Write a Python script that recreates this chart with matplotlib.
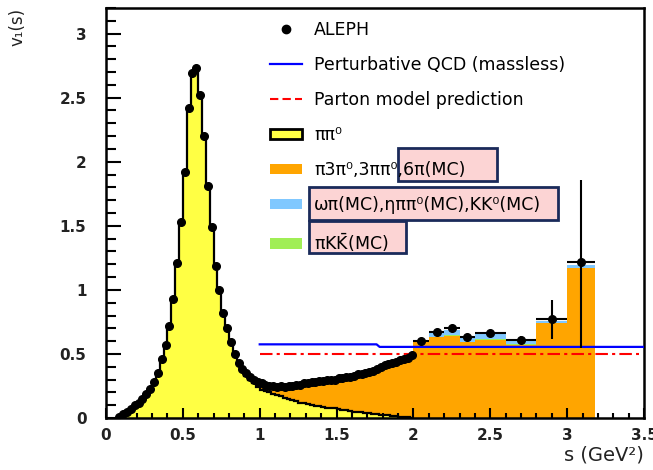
import numpy as np
import matplotlib
matplotlib.use("Agg")
from matplotlib import pyplot as plt
from matplotlib.patches import Patch, Rectangle
from matplotlib.lines import Line2D

# bins: 0.025 GeV^2 wide up to 2 GeV^2, then the wide high-mass bins
fine_edges = np.round(np.arange(0.075, 2.0001, 0.025), 4)
coarse_edges = [2.0, 2.1, 2.2, 2.3, 2.4, 2.6, 2.8, 3.0, 3.18]

aleph_fine = [0.01, 0.03, 0.05, 0.07, 0.10, 0.12, 0.15, 0.19, 0.23, 0.28,
              0.35, 0.46, 0.57, 0.72, 0.93, 1.21, 1.53, 1.92, 2.42, 2.69,
              2.73, 2.52, 2.20, 1.81, 1.49, 1.19, 1.00, 0.82, 0.70, 0.59,
              0.50, 0.43, 0.38, 0.35, 0.32, 0.30, 0.28, 0.27, 0.26, 0.25,
              0.25, 0.24, 0.25, 0.24, 0.25, 0.25, 0.26, 0.26, 0.27, 0.27,
              0.28, 0.28, 0.29, 0.29, 0.30, 0.30, 0.30, 0.31, 0.31, 0.32,
              0.32, 0.33, 0.34, 0.34, 0.35, 0.36, 0.37, 0.38, 0.40, 0.41,
              0.42, 0.43, 0.44, 0.45, 0.46, 0.47, 0.49]
aleph_coarse = [0.60, 0.67, 0.70, 0.63, 0.66, 0.61, 0.77, 1.22]
aleph_err_up = [0.02, 0.02, 0.02, 0.02, 0.02, 0.03, 0.15, 0.64]
aleph_err_dn = [0.02, 0.02, 0.02, 0.02, 0.02, 0.03, 0.15, 0.67]

pipi0_fine = [0.01, 0.03, 0.05, 0.07, 0.10, 0.12, 0.15, 0.19, 0.23, 0.28,
              0.35, 0.46, 0.57, 0.72, 0.93, 1.21, 1.53, 1.92, 2.42, 2.69,
              2.73, 2.52, 2.20, 1.81, 1.49, 1.19, 1.00, 0.82, 0.70, 0.59,
              0.49, 0.42, 0.37, 0.33, 0.30, 0.27, 0.24, 0.22, 0.21, 0.20,
              0.19, 0.18, 0.17, 0.16, 0.15, 0.14, 0.13, 0.12, 0.115, 0.11,
              0.10, 0.095, 0.09, 0.085, 0.08, 0.078, 0.075, 0.07, 0.065, 0.06,
              0.055, 0.05, 0.047, 0.044, 0.04, 0.037, 0.034, 0.03, 0.027, 0.024,
              0.02, 0.017, 0.014, 0.011, 0.008, 0.005, 0.003]

multipi_fine = [0.0] * 33 + [
              0.01, 0.01, 0.02, 0.03, 0.04, 0.04, 0.04, 0.05, 0.05, 0.06,
              0.07, 0.08, 0.09, 0.11, 0.12, 0.14, 0.14, 0.16, 0.17, 0.18,
              0.19, 0.20, 0.20, 0.21, 0.22, 0.23, 0.24, 0.25, 0.26, 0.27,
              0.28, 0.29, 0.30, 0.32, 0.33, 0.35, 0.37, 0.38, 0.40, 0.41,
              0.43, 0.44, 0.46, 0.48]
multipi_coarse = [0.59, 0.63, 0.64, 0.59, 0.61, 0.57, 0.74, 1.17]
kkpi_coarse = [0.0, 0.005, 0.005, 0.005, 0.005, 0.005, 0.0, 0.0]
omegapi_coarse = [0.01, 0.03, 0.04, 0.04, 0.05, 0.03, 0.015, 0.025]

pqcd_s = [1.0, 1.76, 1.78, 3.5]
pqcd_v = [0.575, 0.575, 0.555, 0.555]
parton_s = [1.0, 3.47]
parton_v = [0.5, 0.5]

xticks = [0, 0.5, 1, 1.5, 2, 2.5, 3, 3.5]
xticklabels = ["0", "0.5", "1", "1.5", "2", "2.5", "3", "3.5"]
yticks = [0, 0.5, 1, 1.5, 2, 2.5, 3]
yticklabels = ["0", "0.5", "1", "1.5", "2", "2.5", "3"]

labels = ["ALEPH", "Perturbative QCD (massless)", "Parton model prediction",
          "ππ⁰", "π3π⁰,3ππ⁰,6π(MC)", "ωπ(MC),ηππ⁰(MC),KK⁰(MC)",
          r"πK$\bar{\mathrm{K}}$(MC)"]

c_yellow = "#ffff44"
c_orange = "#ffa500"
c_blue = "#80c8ff"
c_green = "#a0ee55"

fig = plt.figure(figsize=(6.53, 4.70), dpi=100)
ax = fig.add_axes([0.1623, 0.1106, 0.824, 0.8724])

edges = np.concatenate([fine_edges, coarse_edges[1:]])
yellow = np.concatenate([pipi0_fine, np.zeros(len(aleph_coarse))])
orange = np.concatenate([multipi_fine, multipi_coarse])
ax.stairs(yellow + orange, edges, baseline=yellow, fill=True, color=c_orange, lw=0, zorder=1)
ax.stairs(pipi0_fine, fine_edges, fill=True, color=c_yellow, lw=0, zorder=1)
ax.stairs(pipi0_fine, fine_edges, color="black", lw=1.6, zorder=2)

mc = np.array(multipi_coarse)
ax.stairs(mc + kkpi_coarse, coarse_edges, baseline=mc, fill=True, color=c_green, lw=0, zorder=1)
ax.stairs(mc + kkpi_coarse + omegapi_coarse, coarse_edges, baseline=mc + kkpi_coarse,
          fill=True, color=c_blue, lw=0, zorder=1)

ax.plot(pqcd_s, pqcd_v, color="#0000ff", lw=1.6, zorder=3)
ax.plot(parton_s, parton_v, color="#ff0000", lw=1.5, ls=(0, (6, 2, 1.5, 2)), zorder=3)

fc = 0.5 * (fine_edges[1:] + fine_edges[:-1])
ax.errorbar(fc, aleph_fine, xerr=0.0125, yerr=0.015, fmt="o", color="black", ms=5.5,
            elinewidth=1.5, capsize=0, zorder=4)
ce = np.array(coarse_edges)
cc = 0.5 * (ce[1:] + ce[:-1])
ax.errorbar(cc, aleph_coarse, xerr=0.5 * (ce[1:] - ce[:-1]),
            yerr=[aleph_err_dn, aleph_err_up], fmt="o", color="black", ms=5.5,
            elinewidth=1.5, capsize=0, zorder=4)

ax.set_xlim(0, 3.5)
ax.set_ylim(0, 3.2)
ax.set_xticks(xticks)
ax.set_xticklabels(xticklabels)
ax.set_yticks(yticks)
ax.set_yticklabels(yticklabels)
ax.set_xticks(np.arange(0, 3.51, 0.1), minor=True)
ax.set_yticks(np.arange(0, 3.21, 0.1), minor=True)
ax.tick_params(axis="both", which="both", direction="in", width=1.5,
               top=False, right=False, labelsize=11, labelcolor="#222222")
ax.tick_params(axis="y", which="major", length=11, pad=14)
ax.tick_params(axis="y", which="minor", length=7)
ax.tick_params(axis="x", which="major", length=7, pad=7)
ax.tick_params(axis="x", which="minor", length=3.6)
for t in ax.get_xticklabels() + ax.get_yticklabels():
    t.set_fontweight("bold")
for sp in ax.spines.values():
    sp.set_linewidth(1.8)

ax.set_xlabel("s (GeV²)", loc="right", fontsize=14, labelpad=2, color="#222222")
ax.set_ylabel("v₁(s)", loc="top", fontsize=12, color="#222222")
ax.yaxis.set_label_coords(-0.147, 1.0)

# highlight boxes behind part of the legend text
for x0, y0, w, h in [(0.543, 0.578, 0.184, 0.081),
                     (0.377, 0.483, 0.463, 0.080),
                     (0.377, 0.402, 0.181, 0.078)]:
    ax.add_patch(Rectangle((x0, y0), w, h, transform=ax.transAxes,
                           facecolor="#fcd4d4", edgecolor="#1a2a5a", lw=2, zorder=5))

handles = [Line2D([], [], marker="o", color="black", ls="none", ms=6),
           Line2D([], [], color="#0000ff", lw=1.6),
           Line2D([], [], color="#ff0000", lw=1.5, ls=(0, (4, 2))),
           Patch(facecolor=c_yellow, edgecolor="black", lw=2),
           Patch(facecolor=c_orange),
           Patch(facecolor=c_blue),
           Patch(facecolor=c_green)]
leg = ax.legend(handles, labels, loc="upper left", bbox_to_anchor=(0.305, 0.968),
                frameon=False, fontsize=12.5, borderpad=0, borderaxespad=0,
                handlelength=1.84, handletextpad=0.69, handleheight=0.55,
                labelspacing=0.98)
leg.set_zorder(6)

fig.savefig("out.png", dpi=100)
